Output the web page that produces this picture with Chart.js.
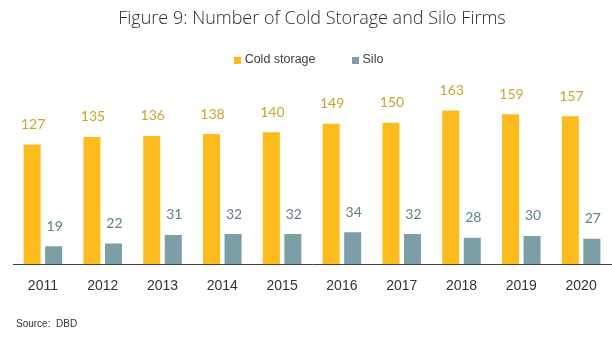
<!DOCTYPE html>
<html>
<head>
<meta charset="utf-8">
<script src="https://cdn.jsdelivr.net/npm/chart.js@4.4.0/dist/chart.umd.min.js"></script>
<style>
  html, body { margin: 0; padding: 0; background: #fff; }
  #wrap { position: relative; width: 612px; height: 339px; }
  #source {
    position: absolute; left: 16px; top: 318px;
    font-family: "Liberation Sans", Arial, sans-serif; font-size: 10px; color: #333;
    white-space: pre;
  }
</style>
</head>
<body>
<div id="wrap">
  <canvas id="grafico" width="612" height="339"></canvas>
  <div id="source">Source:  DBD</div>
</div>
<script>
var anos = ["2011", "2012", "2013", "2014", "2015", "2016", "2017", "2018", "2019", "2020"];
var coldStorage = [127, 135, 136, 138, 140, 149, 150, 163, 159, 157];
var silo = [19, 22, 31, 32, 32, 34, 32, 28, 30, 27];

var corBarra = ["#FDBB1E", "#7C9FA7"];
var corRotulo = ["#CFA22E", "#5F8087"];

// numbers above each bar
var rotulosValor = {
  id: "rotulosValor",
  afterDatasetsDraw: function (chart) {
    var ctx = chart.ctx;
    ctx.save();
    ctx.font = "14px Lato, 'Open Sans', sans-serif";
    ctx.textAlign = "center";
    ctx.textBaseline = "middle";
    chart.data.datasets.forEach(function (ds, i) {
      var meta = chart.getDatasetMeta(i);
      ctx.fillStyle = corRotulo[i];
      meta.data.forEach(function (bar, j) {
        ctx.fillText(String(ds.data[j]), bar.x + 1, bar.y - 20);
      });
    });
    ctx.restore();
  }
};

// legend row under the title, wider spacing than the built-in one
var legendaLinha = {
  id: "legendaLinha",
  afterDraw: function (chart) {
    var ctx = chart.ctx;
    var caixa = 7, folga = 4, entre = 36, yMeio = 60;
    ctx.save();
    ctx.font = "12.5px 'Liberation Sans', Arial, sans-serif";
    ctx.textBaseline = "middle";
    var itens = chart.data.datasets.map(function (ds) {
      return { texto: ds.label, cor: ds.backgroundColor, w: caixa + folga + ctx.measureText(ds.label).width };
    });
    var total = itens.reduce(function (s, it) { return s + it.w; }, 0) + entre * (itens.length - 1);
    var x = 308.5 - total / 2;
    itens.forEach(function (it) {
      ctx.fillStyle = it.cor;
      ctx.fillRect(Math.round(x), yMeio - 3, caixa, caixa);
      ctx.fillStyle = "#404040";
      ctx.fillText(it.texto, x + caixa + folga, yMeio);
      x += it.w + entre;
    });
    ctx.restore();
  }
};

function init() {
  var ctx = document.getElementById("grafico").getContext("2d");
  new Chart(ctx, {
    type: "bar",
    data: {
      labels: anos,
      datasets: [
        { label: "Cold storage", data: coldStorage, backgroundColor: corBarra[0] },
        { label: "Silo", data: silo, backgroundColor: corBarra[1] }
      ]
    },
    options: {
      responsive: false,
      animation: false,
      categoryPercentage: 0.72,
      barPercentage: 0.79,
      layout: { padding: { left: 13, right: 1, top: 0, bottom: 30 } },
      plugins: {
        title: {
          display: true,
          text: "Figure 9: Number of Cold Storage and Silo Firms",
          color: "#2b2b2b",
          font: { family: "'Open Sans', sans-serif", size: 18, weight: "300" },
          padding: { top: 8, bottom: 46 }
        },
        legend: { display: false },
        tooltip: { enabled: false }
      },
      scales: {
        x: {
          grid: { display: false, drawTicks: false },
          border: { display: true, color: "#404040", width: 1 },
          ticks: {
            padding: 14,
            color: "#333",
            font: { family: "'Liberation Sans', Arial, sans-serif", size: 14 }
          }
        },
        y: {
          display: false,
          min: 0,
          max: 200
        }
      }
    },
    plugins: [rotulosValor, legendaLinha]
  });
}
window.addEventListener("DOMContentLoaded", init);
</script>
</body>
</html>
